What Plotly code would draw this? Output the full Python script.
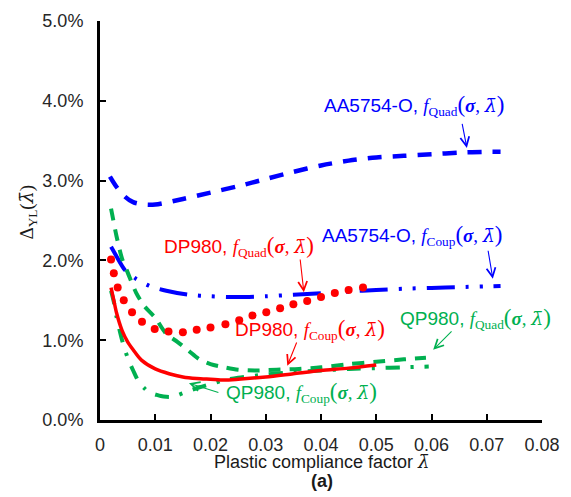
import plotly.graph_objects as go

# ---------------- data (y in percent) ----------------
x_aa_quad = [0.0018, 0.003, 0.0045, 0.006, 0.008, 0.010, 0.015, 0.020, 0.025, 0.030,
             0.035, 0.040, 0.045, 0.050, 0.055, 0.060, 0.065, 0.070, 0.0725]
y_aa_quad = [3.05, 2.92, 2.80, 2.73, 2.70, 2.70, 2.77, 2.85, 2.93, 3.02,
             3.11, 3.19, 3.25, 3.29, 3.31, 3.33, 3.35, 3.36, 3.36]

x_aa_coup = [0.002, 0.003, 0.0045, 0.0065, 0.009, 0.012, 0.016, 0.020, 0.025, 0.030,
             0.035, 0.040, 0.045, 0.050, 0.055, 0.060, 0.065, 0.070, 0.0725]
y_aa_coup = [2.17, 2.05, 1.88, 1.77, 1.68, 1.62, 1.57, 1.55, 1.54, 1.55,
             1.57, 1.59, 1.61, 1.63, 1.645, 1.655, 1.665, 1.675, 1.68]

x_dp_quad = [0.0020, 0.0025, 0.0032, 0.0043, 0.0058, 0.0076, 0.0099, 0.0124, 0.0150, 0.0175,
             0.0200, 0.0227, 0.0252, 0.0276, 0.0301, 0.0326, 0.0350, 0.0375, 0.0400, 0.0425,
             0.0450, 0.0476]
y_dp_quad = [2.01, 1.84, 1.66, 1.50, 1.35, 1.23, 1.14, 1.11, 1.10, 1.13,
             1.16, 1.20, 1.25, 1.31, 1.35, 1.40, 1.45, 1.49, 1.54, 1.59,
             1.63, 1.66]

x_dp_coup = [0.002, 0.0025, 0.003, 0.004, 0.005, 0.006, 0.0075, 0.010, 0.0125, 0.015,
             0.0175, 0.020, 0.0225, 0.025, 0.030, 0.035, 0.040, 0.045, 0.050]
y_dp_coup = [1.66, 1.50, 1.34, 1.12, 0.98, 0.88, 0.75, 0.64, 0.58, 0.54,
             0.52, 0.51, 0.50, 0.51, 0.54, 0.58, 0.62, 0.65, 0.69]

x_qp_quad = [0.002, 0.003, 0.004, 0.005, 0.0065, 0.008, 0.010, 0.012, 0.014, 0.016,
             0.018, 0.020, 0.0225, 0.025, 0.028, 0.032, 0.036, 0.040, 0.045, 0.050,
             0.055, 0.059]
y_qp_quad = [2.65, 2.30, 2.02, 1.85, 1.60, 1.43, 1.28, 1.08, 0.98, 0.87,
             0.76, 0.70, 0.66, 0.63, 0.62, 0.63, 0.64, 0.66, 0.70, 0.73,
             0.76, 0.78]

x_qp_coup = [0.002, 0.0025, 0.003, 0.004, 0.005, 0.006, 0.007, 0.008, 0.009, 0.010,
             0.011, 0.012, 0.013, 0.014, 0.0155, 0.018, 0.020, 0.0225, 0.025, 0.030,
             0.035, 0.040, 0.045, 0.050, 0.055, 0.0595]
y_qp_coup = [1.62, 1.48, 1.29, 1.00, 0.78, 0.62, 0.48, 0.40, 0.34, 0.32,
             0.30, 0.29, 0.29, 0.31, 0.35, 0.41, 0.45, 0.50, 0.53, 0.57,
             0.60, 0.62, 0.64, 0.65, 0.66, 0.67]

x_tick_vals = [0, 0.01, 0.02, 0.03, 0.04, 0.05, 0.06, 0.07, 0.08]
x_tick_text = ["0", "0.01", "0.02", "0.03", "0.04", "0.05", "0.06", "0.07", "0.08"]
y_tick_vals = [0, 1, 2, 3, 4, 5]
y_tick_text = ["0.0%", "1.0%", "2.0%", "3.0%", "4.0%", "5.0%"]

BLUE = "#0000FF"
RED = "#FF0000"
GREEN = "#00B050"
SERIF = "Liberation Serif, DejaVu Serif, serif"
LAMBDA_FONT = "DejaVu Serif, serif"
SANS = "Liberation Sans, Arial, sans-serif"
LAMBDA_BAR = "λ̄"

fig = go.Figure()
fig.add_trace(go.Scatter(x=x_aa_quad, y=y_aa_quad, mode="lines", line_shape="spline",
                         line=dict(color=BLUE, width=4.5, dash="14px,11px", smoothing=0.8)))
fig.add_trace(go.Scatter(x=x_aa_coup, y=y_aa_coup, mode="lines", line_shape="spline",
                         line=dict(color=BLUE, width=4, dash="28px,11px,3px,11px,3px,11px",
                                   smoothing=0.8)))
fig.add_trace(go.Scatter(x=x_qp_quad, y=y_qp_quad, mode="lines", line_shape="spline",
                         line=dict(color=GREEN, width=4, dash="12px,9px", smoothing=0.8)))
fig.add_trace(go.Scatter(x=x_qp_coup, y=y_qp_coup, mode="lines", line_shape="spline",
                         line=dict(color=GREEN, width=4, dash="14px,11px,3px,11px",
                                   smoothing=0.8)))
fig.add_trace(go.Scatter(x=x_dp_coup, y=y_dp_coup, mode="lines", line_shape="spline",
                         line=dict(color=RED, width=3.5, smoothing=0.8)))
fig.add_trace(go.Scatter(x=x_dp_quad, y=y_dp_quad, mode="markers",
                         marker=dict(color=RED, size=8, line=dict(width=0))))


def label(mat, kind):
    return (f"{mat}, <span style=\"font-family:{SERIF}\"><i>f</i><sub>{kind}</sub>"
            f"<span style=\"font-size:23px\">(</span><b><i>σ</i></b>, "
            f"<span style=\"font-family:{LAMBDA_FONT}\"><i>{LAMBDA_BAR}</i></span>"
            f"<span style=\"font-size:23px\">)</span></span>")


labels = [
    # text, x, y, color
    (label("AA5754-O", "Quad"), 0.0402, 3.94, BLUE),
    (label("AA5754-O", "Coup"), 0.0398, 2.31, BLUE),
    (label("DP980", "Quad"), 0.0112, 2.18, RED),
    (label("DP980", "Coup"), 0.0241, 1.13, RED),
    (label("QP980", "Quad"), 0.0539, 1.27, GREEN),
    (label("QP980", "Coup"), 0.0224, 0.34, GREEN),
]
for txt, x, y, c in labels:
    fig.add_annotation(x=x, y=y, xref="x", yref="y", text=txt, showarrow=False,
                       xanchor="left", yanchor="middle",
                       font=dict(family=SANS, size=19, color=c))

arrows = [
    # head x, head y, tail x, tail y, color
    (0.0664, 3.41, 0.0655, 3.73, BLUE),
    (0.0711, 1.77, 0.0702, 2.14, BLUE),
    (0.0369, 1.60, 0.0362, 2.03, RED),
    (0.0339, 0.68, 0.0357, 0.99, RED),
    (0.0603, 0.88, 0.0639, 1.13, GREEN),
    (0.0161, 0.46, 0.0217, 0.34, GREEN),
]
for hx, hy, tx, ty, c in arrows:
    fig.add_annotation(x=hx, y=hy, ax=tx, ay=ty, xref="x", yref="y", axref="x", ayref="y",
                       text="", showarrow=True, arrowhead=5, arrowsize=1.6,
                       arrowwidth=1.1, arrowcolor=c)

# axis titles
fig.add_annotation(x=0.502, y=-0.103, xref="paper", yref="paper", showarrow=False,
                   text="Plastic compliance factor <span style=\"font-family:" + LAMBDA_FONT
                        + "\"><i>" + LAMBDA_BAR + "</i></span>",
                   xanchor="center", yanchor="middle",
                   font=dict(family=SANS, size=18, color="#1a1a1a"))
fig.add_annotation(x=0.502, y=-0.153, xref="paper", yref="paper", showarrow=False,
                   text="<b>(a)</b>", xanchor="center", yanchor="middle",
                   font=dict(family=SANS, size=18, color="#1a1a1a"))
fig.add_annotation(x=-0.165, y=0.52, xref="paper", yref="paper", showarrow=False,
                   text="Δ<sub>YL</sub>(<span style=\"font-family:" + LAMBDA_FONT + "\"><i>"
                        + LAMBDA_BAR + "</i></span>)",
                   textangle=-90, xanchor="center", yanchor="middle",
                   font=dict(family=SERIF, size=19, color="#1a1a1a"))

axis_common = dict(showgrid=False, zeroline=False, showline=True, linecolor="black",
                   linewidth=3, ticks="inside", ticklen=6, tickwidth=2, tickcolor="black",
                   tickfont=dict(family=SANS, size=18, color="#262626"))
fig.update_xaxes(range=[0, 0.08], tickmode="array", tickvals=x_tick_vals,
                 ticktext=x_tick_text, ticklabelstandoff=6, **axis_common)
fig.update_yaxes(range=[0, 5], tickmode="array", tickvals=y_tick_vals,
                 ticktext=y_tick_text, ticklabelstandoff=10, **axis_common)

fig.update_layout(width=571, height=497, showlegend=False,
                  margin=dict(l=100, r=29, t=21, b=77),
                  paper_bgcolor="white", plot_bgcolor="white")

fig.write_html("out.html")
